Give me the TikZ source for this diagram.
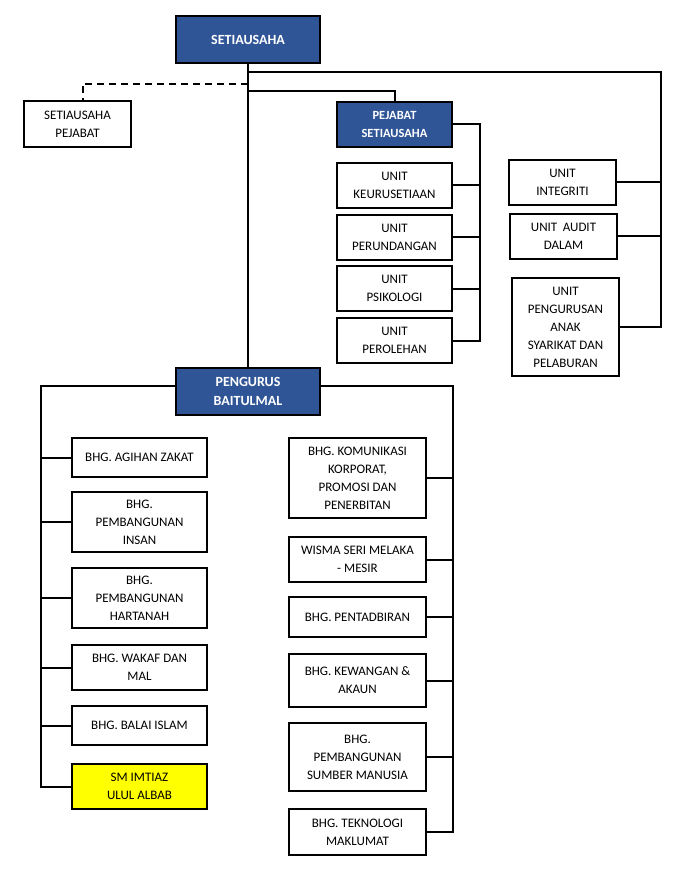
\documentclass[tikz,border=0pt]{standalone}
\usepackage{fontspec}
\setmainfont{Carlito}
\usetikzlibrary{positioning,calc}
\definecolor{hdblue}{RGB}{47,85,151}
\definecolor{imtyellow}{RGB}{255,255,0}

\begin{document}
\begin{tikzpicture}[x=1pt, y=-1pt,
    every node/.style={font=\fontsize{13}{18}\selectfont},
    box/.style={draw, line width=2pt, fill=white, align=center, inner sep=0pt},
    hdbox/.style={box, fill=hdblue, text=white, font=\fontsize{14}{19}\selectfont\bfseries},
    link/.style={line width=2pt},
]
\useasboundingbox (0,0) rectangle (694,874);

% Top level
\node[hdbox, minimum width=144, minimum height=47] (sec) at (248,39.5) {SETIAUSAHA};
\node[box, minimum width=107, minimum height=46] (secpj) at (77.5,124) {SETIAUSAHA\\PEJABAT};
\node[hdbox, font=\fontsize{12.5}{18}\selectfont\bfseries, minimum width=115, minimum height=45] (pjs) at (394.5,124.5) {PEJABAT\\SETIAUSAHA};

% Units under Pejabat Setiausaha
\node[box, minimum width=115, minimum height=45] (ukeu) at (394.5,185.5) {UNIT\\KEURUSETIAAN};
\node[box, minimum width=115, minimum height=45] (uper) at (394.5,237.5) {UNIT\\PERUNDANGAN};
\node[box, minimum width=115, minimum height=45] (upsi) at (394.5,288.5) {UNIT\\PSIKOLOGI};
\node[box, minimum width=115, minimum height=45] (upro) at (394.5,340.5) {UNIT\\PEROLEHAN};

% Units reporting to Setiausaha
\node[box, minimum width=107, minimum height=45] (uint) at (562.5,182.5) {UNIT\\INTEGRITI};
\node[box, minimum width=107, minimum height=45] (uaud) at (563.5,236.5) {UNIT\hspace{0.2em} AUDIT\\DALAM};
\node[box, minimum width=107, minimum height=98] (uanak) at (565.5,327) {UNIT\\PENGURUSAN\\ANAK\\SYARIKAT DAN\\PELABURAN};

% Pengurus Baitulmal
\node[hdbox, minimum width=144, minimum height=47] (pb) at (248,391.5) {PENGURUS\\BAITULMAL};

% Left column
\node[box, minimum width=135, minimum height=39] (zakat) at (139.5,457.5) {BHG. AGIHAN ZAKAT};
\node[box, minimum width=135, minimum height=60] (insan) at (139.5,522) {BHG.\\PEMBANGUNAN\\INSAN};
\node[box, minimum width=135, minimum height=60] (hartanah) at (139.5,598) {BHG.\\PEMBANGUNAN\\HARTANAH};
\node[box, minimum width=135, minimum height=45] (wakaf) at (139.5,667.5) {BHG. WAKAF DAN\\MAL};
\node[box, minimum width=135, minimum height=39] (balai) at (139.5,725.5) {BHG. BALAI ISLAM};
\node[box, fill=imtyellow, minimum width=135, minimum height=45] (imtiaz) at (139.5,786.5) {SM IMTIAZ\\ULUL ALBAB};

% Right column
\node[box, minimum width=137, minimum height=80] (komunikasi) at (357.5,478) {BHG. KOMUNIKASI\\KORPORAT,\\PROMOSI DAN\\PENERBITAN};
\node[box, minimum width=137, minimum height=45] (wisma) at (357.5,559.5) {WISMA SERI MELAKA\\- MESIR};
\node[box, minimum width=137, minimum height=40] (pentadbiran) at (357.5,617) {BHG. PENTADBIRAN};
\node[box, minimum width=137, minimum height=53] (kewangan) at (357.5,680.5) {BHG. KEWANGAN \&\\AKAUN};
\node[box, minimum width=137, minimum height=68] (sumber) at (357.5,757) {BHG.\\PEMBANGUNAN\\SUMBER MANUSIA};
\node[box, minimum width=137, minimum height=46] (teknologi) at (357.5,832) {BHG. TEKNOLOGI\\MAKLUMAT};

% Bus positions
\coordinate (j1) at (248,84);
\coordinate (j2) at (248,72);
\coordinate (j3) at (248,91);
\coordinate (rbus) at (661,0);
\coordinate (pbus) at (480,0);
\coordinate (lbus) at (41,0);
\coordinate (bbus) at (453,0);

% Connectors, top part
\draw[link] (sec.south) -- (pb.north);
\draw[link, dash pattern=on 7pt off 5pt] (j1) -| ([xshift=5pt]secpj.north);
\draw[link] (j3) -| (pjs.north);
\draw[link] (j2) -- (j2 -| rbus) -- (uanak.east -| rbus) -- (uanak.east);
\foreach \n in {uint,uaud} \draw[link] (\n.east) -- (\n.east -| rbus);
\draw[link] (pjs.east) -- (pjs.east -| pbus) -- (upro.east -| pbus) -- (upro.east);
\foreach \n in {ukeu,uper,upsi} \draw[link] (\n.east) -- (\n.east -| pbus);

% Connectors, Baitulmal
\draw[link] ([yshift=6pt]pb.west) -- ([yshift=6pt]pb.west -| lbus) -- (imtiaz.west -| lbus) -- (imtiaz.west);
\foreach \n in {zakat,insan,hartanah,wakaf,balai} \draw[link] (\n.west) -- (\n.west -| lbus);
\draw[link] ([yshift=6pt]pb.east) -- ([yshift=6pt]pb.east -| bbus) -- (teknologi.east -| bbus) -- (teknologi.east);
\foreach \n in {komunikasi,wisma,pentadbiran,kewangan,sumber} \draw[link] (\n.east) -- (\n.east -| bbus);
\end{tikzpicture}
\end{document}
